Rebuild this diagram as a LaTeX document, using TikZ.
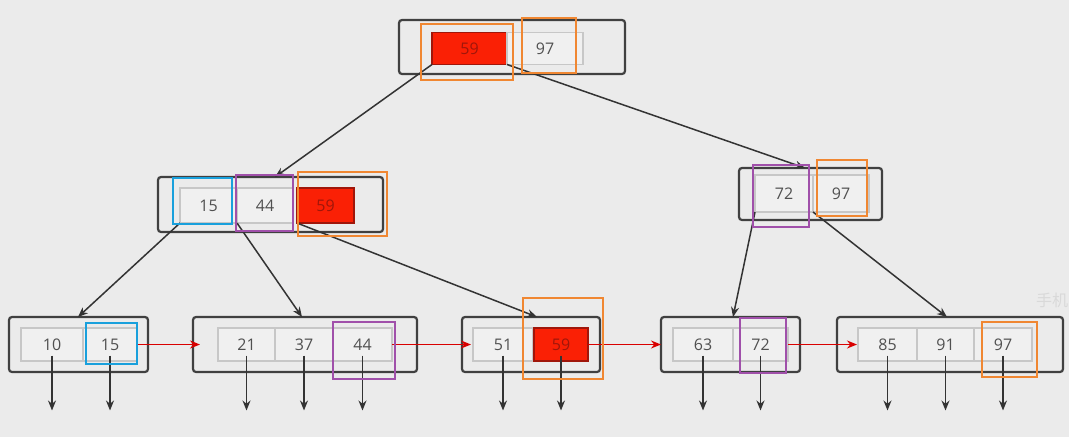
\documentclass[tikz,border=0pt]{standalone}
\usepackage{fontspec}
\setmainfont{Open Sans}
\newfontfamily\cjk{Noto Sans CJK SC}
\usetikzlibrary{positioning}
\usetikzlibrary{arrows.meta}
\definecolor{bg}{RGB}{235,235,235}
\definecolor{hotred}{RGB}{250,32,5}
\definecolor{hotline}{RGB}{160,22,10}
\definecolor{ringorange}{RGB}{240,135,50}
\definecolor{ringblue}{RGB}{25,160,220}
\definecolor{ringpurple}{RGB}{160,80,170}
\definecolor{numgray}{RGB}{80,80,80}

\begin{document}
\begin{tikzpicture}[
        x = 1pt, y = -1pt,
        box/.style = {
            draw=black!75,
            line width=2.2pt,
            rounded corners=3pt,
            minimum width=#1,
            minimum height=55pt,
            inner sep=0pt,
            outer sep=0pt
        },
        box/.default = 139pt,
        cell/.style = {
            draw=black!22,
            line width=1.3pt,
            fill=white!25!bg,
            minimum width=#1,
            minimum height=33pt,
            inner sep=0pt,
            outer sep=0pt,
            text=numgray,
            font=\fontsize{16}{18}\selectfont
        },
        cell/.default = 57pt,
        hot/.style = {cell=#1, fill=hotred, draw=hotline, text=hotline},
        hot/.default = 57pt,
        ring/.style = {draw=#1, line width=2.4pt, inner sep=0pt},
        link/.style = {draw=black!80, line width=1.5pt, -{Stealth[length=10pt, width=8pt]}},
        chain/.style = {draw=red!85!black, line width=1.5pt, -{Stealth[length=10pt, width=8pt]}}
    ]
    \useasboundingbox[fill=bg] (0,0) rectangle (1069,437);

    % root
    \node[box=226pt, minimum height=54pt] (root) at (512,47) {};
    \node[hot=75pt, minimum height=32pt] (r59) at (469.5,48.5) {59};
    \node[cell=76pt, minimum height=32pt, right=0pt of r59] (r97) {97};

    % second level
    \node[box=225pt] (left) at (270.5,204.5) {};
    \node[cell, minimum height=35pt] (l15) at (208.5,205.5) {15};
    \node[cell=56pt, minimum height=35pt, right=0pt of l15] (l44) {44};
    \node[hot, minimum height=35pt, right=4pt of l44] (l59) {59};

    \node[box=143pt, minimum height=52pt] (right) at (810.5,194) {};
    \node[cell=58pt, minimum height=37pt] (m72) at (784,193.5) {72};
    \node[cell=56pt, minimum height=37pt, right=0pt of m72] (m97) {97};

    % leaves
    \node[box] (leaf1) at (78.5,344.5) {};
    \node[cell=62pt] (a10) at (52,344.5) {10};
    \node[cell=54pt, right=0pt of a10] (a15) {15};

    \node[box=224pt] (leaf2) at (305,344.5) {};
    \node[cell] (b21) at (246.5,344.5) {21};
    \node[cell=58pt, right=0pt of b21] (b37) {37};
    \node[cell=59pt, right=0pt of b37] (b44) {44};

    \node[box=138pt] (leaf3) at (531,344.5) {};
    \node[cell=60pt] (c51) at (503,344.5) {51};
    \node[hot=54pt, right=1pt of c51] (c59) {59};

    \node[box] (leaf4) at (730.5,344.5) {};
    \node[cell=60pt] (d63) at (703,344.5) {63};
    \node[cell=55pt, right=0pt of d63] (d72) {72};

    \node[box=226pt] (leaf5) at (950,344.5) {};
    \node[cell=59pt] (e85) at (887.5,344.5) {85};
    \node[cell, right=0pt of e85] (e91) {91};
    \node[cell=58pt, right=0pt of e91] (e97) {97};

    \draw[link] (r59.south west) -- ([xshift=117pt]left.north west);
    \draw[link] (r59.south east) -- ([xshift=66pt]right.north west);
    \draw[link] (l15.south west) -- ([xshift=69pt]leaf1.north west);
    \draw[link] (l44.south west) -- ([xshift=109pt]leaf2.north west);
    \draw[link] (l59.south west) -- ([xshift=75pt]leaf3.north west);
    \draw[link] (m72.south west) -- ([xshift=72pt]leaf4.north west);
    \draw[link] (m97.south west) -- ([xshift=110pt]leaf5.north west);

    \draw[chain] (a15.east) -- ([xshift=7pt]leaf2.west);
    \draw[chain] (b44.east) -- ([xshift=9pt]leaf3.west);
    \draw[chain] (c59.east) -- (leaf4.west);
    \draw[chain] (d72.east) -- ([xshift=20pt]leaf5.west);

    \foreach \c in {a10,a15,b21,b37,b44,c51,c59,d63,d72,e85,e91,e97}
        \draw[link] ([yshift=-11pt]\c.center) -- ([yshift=-66pt]\c.center);

    % marked keys
    \node[ring=ringorange, minimum width=92pt, minimum height=56pt] (o1) at (467,52) {};
    \node[ring=ringorange, minimum width=54pt, minimum height=55pt] (o2) at (549,45.5) {};
    \node[ring=ringblue, minimum width=59pt, minimum height=46pt] (u1) at (202.5,201) {};
    \node[ring=ringpurple, minimum width=57pt, minimum height=56pt] (p1) at (264.5,203) {};
    \node[ring=ringorange, minimum width=89pt, minimum height=64pt] (o3) at (342.5,204) {};
    \node[ring=ringpurple, minimum width=56pt, minimum height=62pt] (p2) at (781,196) {};
    \node[ring=ringorange, minimum width=50pt, minimum height=56pt] (o4) at (842,188) {};
    \node[ring=ringblue, minimum width=51pt, minimum height=41pt] (u2) at (111.5,343.5) {};
    \node[ring=ringpurple, minimum width=62pt, minimum height=57pt] (p3) at (364,350.5) {};
    \node[ring=ringorange, minimum width=80pt, minimum height=81pt] (o5) at (563,338.5) {};
    \node[ring=ringpurple, minimum width=46pt, minimum height=55pt] (p4) at (763,345.5) {};
    \node[ring=ringorange, minimum width=55pt, minimum height=55pt] (o6) at (1009.5,349.5) {};

    \node[anchor=west, inner sep=0pt, text=black!15, font=\cjk\fontsize{16}{18}\selectfont] (mark) at (1036,300) {手机};
\end{tikzpicture}
\end{document}
